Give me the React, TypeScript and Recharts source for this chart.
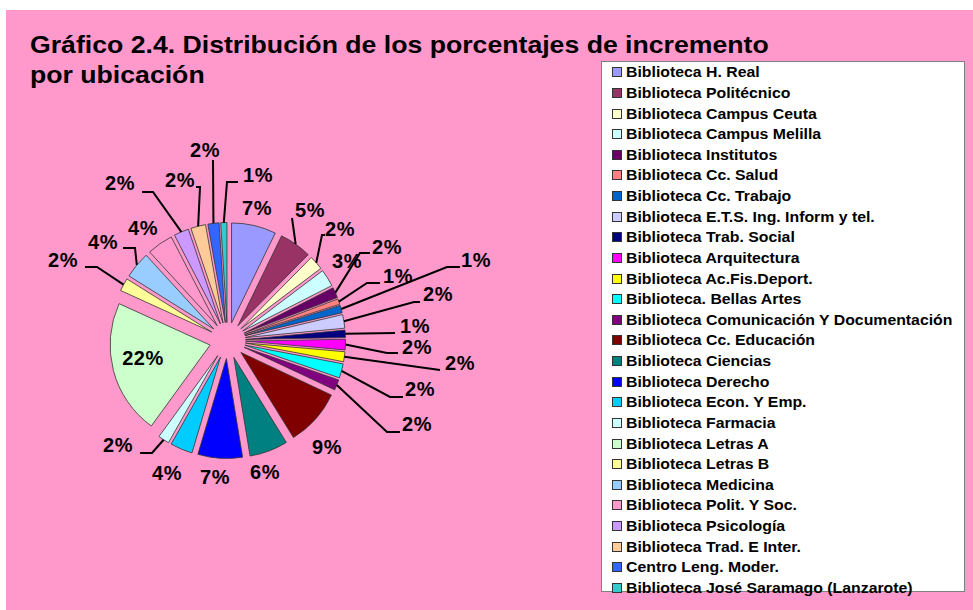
import React from 'react';
import { PieChart, Pie, Cell, Sector, Legend } from 'recharts';

const categories = [
  'Biblioteca H. Real',
  'Biblioteca Politécnico',
  'Biblioteca Campus Ceuta',
  'Biblioteca Campus Melilla',
  'Biblioteca Institutos',
  'Biblioteca Cc. Salud',
  'Biblioteca Cc. Trabajo',
  'Biblioteca E.T.S. Ing. Inform y tel.',
  'Biblioteca Trab. Social',
  'Biblioteca Arquitectura',
  'Biblioteca Ac.Fis.Deport.',
  'Biblioteca. Bellas Artes',
  'Biblioteca Comunicación Y Documentación',
  'Biblioteca Cc. Educación',
  'Biblioteca Ciencias',
  'Biblioteca Derecho',
  'Biblioteca Econ. Y Emp.',
  'Biblioteca Farmacia',
  'Biblioteca Letras A',
  'Biblioteca Letras B',
  'Biblioteca Medicina',
  'Biblioteca Polit. Y Soc.',
  'Biblioteca Psicología',
  'Biblioteca Trad. E Inter.',
  'Centro Leng. Moder.',
  'Biblioteca José Saramago (Lanzarote)',
];

const percentages = [
  7.2, 5.2, 2.3, 2.8, 1.7, 0.9, 1.2, 2.2, 1.2, 1.7, 1.6, 2.3, 1.7,
  9.2, 6.2, 7.2, 3.6, 1.8, 21.8, 2.1, 4.3, 4.2, 2.4, 2.4, 1.8, 1.0,
];

const colors = [
  '#9999FF', '#993366', '#FFFFCC', '#CCFFFF', '#660066', '#FF8080', '#0066CC',
  '#CCCCFF', '#000080', '#FF00FF', '#FFFF00', '#00FFFF', '#800080', '#800000',
  '#008080', '#0000FF', '#00CCFF', '#CCFFFF', '#CCFFCC', '#FFFF99', '#99CCFF',
  '#FF99CC', '#CC99FF', '#FFCC99', '#3366FF', '#33CCCC',
];

const titleLines = [
  'Gráfico 2.4. Distribución de los porcentajes de incremento',
  'por ubicación',
];

// label layout relative to pie centre: [textX, textY, ...leader line points after the slice edge]
const labelLayout: number[][] = [
  [29.5, -132.5],
  [82.5, -130.5, 64.5, -122.5],
  [112.5, -111.5, 94.5, -105.5, 97.5, -105.5],
  [119.5, -79.5],
  [159.5, -93.5, 132.5, -87.5, 142.5, -87.5],
  [170.5, -64.5, 139.5, -57.5, 152.5, -57.5],
  [248.5, -80.5, 219.5, -73.5, 232.5, -73.5],
  [210.5, -46.5, 186.5, -38.5, 192.5, -38.5],
  [187.5, -14.5, 167.5, -7.5],
  [189.5, 6.5, 159.5, 12.5, 170.5, 12.5],
  [232.5, 22.5, 212.5, 29.5],
  [192.5, 48.5, 162.5, 56.5, 175.5, 56.5],
  [189.5, 83.5, 159.5, 91.5, 172.5, 91.5],
  [99.5, 106.5],
  [37.5, 131.5],
  [-12.5, 136.5],
  [-60.5, 132.5],
  [-109.5, 104.5, -75.5, 112.5, -87.5, 112.5],
  [-84.5, 17.5],
  [-164.5, -80.5, -130.5, -73.5, -142.5, -73.5],
  [-124.5, -98.5, -92.5, -92.5, -104.5, -92.5],
  [-84.5, -112.5],
  [-107.5, -157.5, -74.5, -148.5, -85.5, -148.5],
  [-47.5, -160.5, -27.5, -153.5, -31.5, -153.5],
  [-22.5, -190.5, -14.5, -180.5],
  [30.5, -165.5, -0.5, -158.5, 10.5, -158.5],
];

const data = categories.map((name, i) => ({ name, value: percentages[i] }));

const EXPLODE = 18;
const RAD = Math.PI / 180;
const FONT = 'Liberation Sans, Arial, Helvetica, sans-serif';

const ExplodedSector = (props: any) => {
  const { cx, cy, midAngle } = props;
  const dx = EXPLODE * Math.cos(-midAngle * RAD);
  const dy = EXPLODE * Math.sin(-midAngle * RAD);
  return (
    <Sector
      {...props}
      cx={cx + dx}
      cy={cy + dy}
      stroke="#333333"
      strokeWidth={0.8}
    />
  );
};

const renderLabel = (props: any) => {
  const { cx, cy, midAngle, outerRadius, index, value } = props;
  const layout = labelLayout[index];
  const tx = cx + layout[0];
  const ty = cy + layout[1];
  const r = outerRadius + EXPLODE;
  const sx = cx + r * Math.cos(-midAngle * RAD);
  const sy = cy + r * Math.sin(-midAngle * RAD);
  let path = '';
  if (layout.length > 2) {
    path = `M${sx},${sy}`;
    for (let k = 2; k < layout.length; k += 2) {
      path += ` L${cx + layout[k]},${cy + layout[k + 1]}`;
    }
  }
  return (
    <g key={`lbl-${index}`}>
      {path && <path d={path} stroke="#000" strokeWidth={2} fill="none" />}
      <text
        x={tx}
        y={ty}
        textAnchor="middle"
        dominantBaseline="central"
        fontFamily={FONT}
        fontWeight="bold"
        fontSize={20}
        letterSpacing={0.5}
        fill="#000"
      >
        {`${Math.round(value)}%`}
      </text>
    </g>
  );
};

const renderLegend = (props: any) => {
  const payload = (props.payload || [])
    .slice()
    .sort((a: any, b: any) => categories.indexOf(a.value) - categories.indexOf(b.value));
  return (
    <div
      style={{
        width: 364,
        height: 531,
        background: '#FFFFFF',
        border: '1px solid #808080',
        boxSizing: 'border-box',
      }}
    >
      {payload.map((entry: any, i: number) => (
        <div
          key={`leg-${i}`}
          style={{
            height: 20.64,
            display: 'flex',
            alignItems: 'center',
            fontFamily: FONT,
            fontWeight: 'bold',
            fontSize: 14,
            color: '#000',
            whiteSpace: 'nowrap',
          }}
        >
          <span
            style={{
              display: 'inline-block',
              width: 8,
              height: 8,
              marginLeft: 10,
              marginRight: 4,
              background: entry.color,
              border: '1px solid #333',
            }}
          />
          <span
            style={{
              display: 'inline-block',
              transform: 'scaleX(1.13)',
              transformOrigin: 'left center',
            }}
          >
            {entry.value}
          </span>
        </div>
      ))}
    </div>
  );
};

export default function App() {
  return (
    <div
      style={{
        position: 'absolute',
        left: 6,
        top: 10,
        width: 967,
        height: 600,
        background: '#FF99CC',
      }}
    >
      <div
        style={{
          position: 'absolute',
          left: 24,
          top: 20,
          fontFamily: FONT,
          fontWeight: 'bold',
          fontSize: 24,
          lineHeight: '30px',
          color: '#000',
          whiteSpace: 'nowrap',
          zIndex: 2,
          transform: 'scaleX(1.11)',
          transformOrigin: 'left top',
        }}
      >
        {titleLines.map((t, i) => (
          <div key={i}>{t}</div>
        ))}
      </div>
      <PieChart width={967} height={600} margin={{ top: 0, right: 0, bottom: 0, left: 0 }}>
        <Pie
          data={data}
          dataKey="value"
          nameKey="name"
          cx={221.5}
          cy={330.5}
          outerRadius={100}
          startAngle={90}
          endAngle={-270}
          isAnimationActive={false}
          shape={ExplodedSector}
          label={renderLabel}
          labelLine={false}
          stroke="#333333"
        >
          {data.map((d, i) => (
            <Cell key={`c-${i}`} fill={colors[i]} />
          ))}
        </Pie>
        <Legend
          content={renderLegend}
          wrapperStyle={{ position: 'absolute', left: 595, top: 51, width: 364 }}
        />
      </PieChart>
    </div>
  );
}
